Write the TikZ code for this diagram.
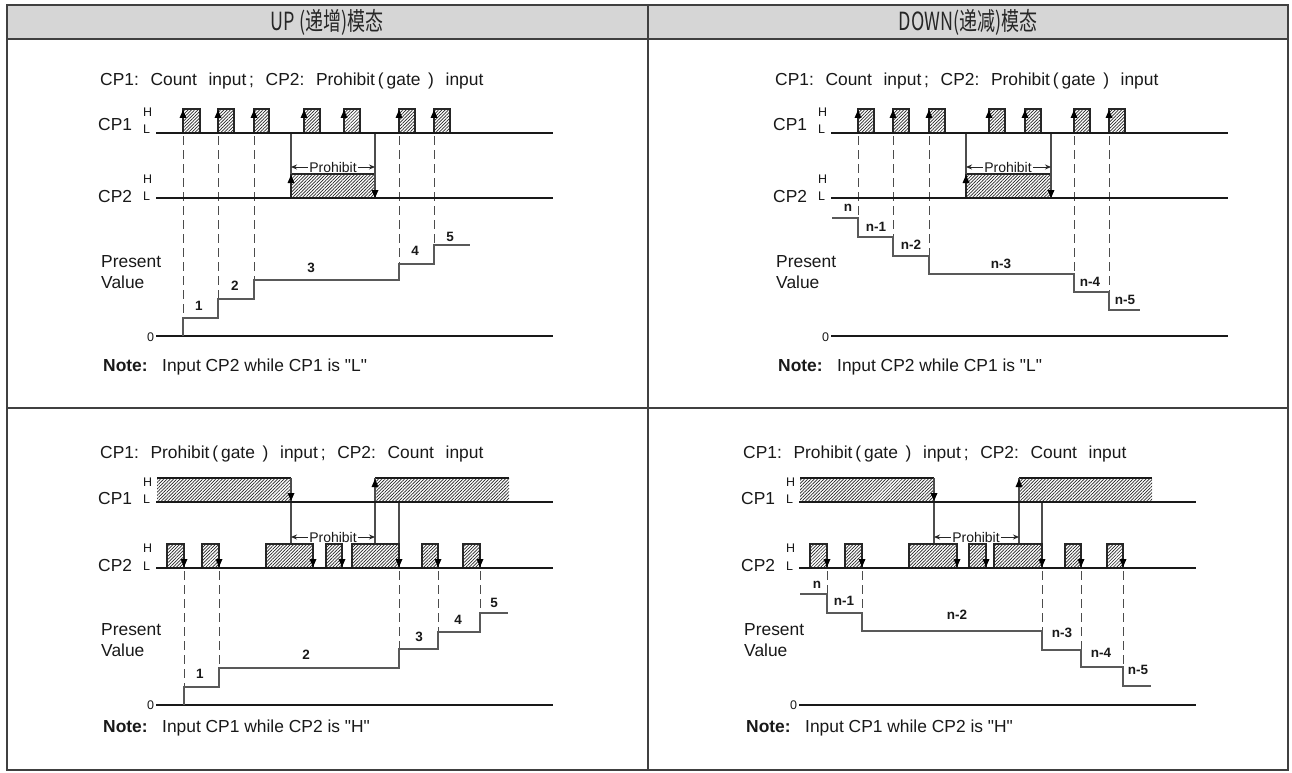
\documentclass[tikz,border=0pt]{standalone}
\usepackage{fontspec}
\usepackage{graphicx}
\setmainfont{Liberation Sans}
\newfontfamily\qfont[Ligatures=TeXOff]{Liberation Sans}
\newfontfamily\cjk{Noto Sans CJK SC}
\usetikzlibrary{patterns.meta,arrows.meta}
\tikzset{
  sig/.style={line width=1.8pt,black!90},
  stepl/.style={line width=1.1pt,black!65},
  dsh/.style={line width=1pt,black!70,dash pattern=on 9pt off 5pt},
  vln/.style={line width=1.1pt,black!70},
  pulse/.style={draw=black!85,line width=1.1pt,pattern={Lines[angle=45,distance=2.3pt,line width=0.7pt]},pattern color=black!85},
  hatch/.style={pattern={Lines[angle=45,distance=2.3pt,line width=0.7pt]},pattern color=black!85},
  lbl/.style={font=\fontsize{17.4}{18}\selectfont,anchor=base west,inner sep=0pt,text=black!90},
  hl/.style={font=\fontsize{12.5}{13}\selectfont,anchor=base west,inner sep=0pt,text=black!90},
  num/.style={font=\bfseries\fontsize{13.5}{14}\selectfont,inner sep=0pt,text=black!90},
  phb/.style={font=\fontsize{14}{14}\selectfont,inner sep=1.5pt,text=black!90},
  pharr/.style={line width=0.9pt,black!85,-{Stealth[length=6pt,width=5pt]}},
  hdr/.style={font=\cjk\fontsize{25}{25}\selectfont,text=black!85},
  frame/.style={line width=1.3pt,black!75}
}
\newcommand{\qq}{{\qfont\symbol{34}}}
\newcommand{\dsp}{\hspace{0.67em}}
\newcommand{\uppulse}[2]{\draw[pulse] (#1,133) -- (#1,109) -- (#2,109) -- (#2,133);
  \fill[black] (#1,110) -- ++(-3.5,8) -- ++(7,0) -- cycle;}
\newcommand{\dnpulse}[2]{\draw[pulse] (#1,568) -- (#1,544) -- (#2,544) -- (#2,568);
  \fill[black] (#2,567) -- ++(-3.5,-8) -- ++(7,0) -- cycle;}
\newcommand{\uptri}[2]{\fill[black] (#1,#2) -- ++(-3.5,8) -- ++(7,0) -- cycle;}
\newcommand{\dntri}[2]{\fill[black] (#1,#2) -- ++(-3.5,-8) -- ++(7,0) -- cycle;}
\begin{document}
\begin{tikzpicture}[x=1pt,y=-1pt]
\useasboundingbox (0,0) rectangle (1292,773);
\fill[white] (0,0) rectangle (1292,773);
% ---------- table ----------
\fill[black!16] (7,5) rectangle (1288,39);
\draw[frame] (7,5) rectangle (1288,770);
\draw[frame] (7,39) -- (1288,39);
\draw[frame] (648,5) -- (648,770);
\draw[frame] (7,408) -- (1288,408);
\node[hdr] (h1) at (327,22) {\scalebox{0.72}[1]{UP (递增)模态}};
\node[hdr] (h2) at (968,22) {\scalebox{0.72}[1]{DOWN(递减)模态}};

% =============== TOP LEFT ===============
\node[lbl] (tlt) at (100,86) {CP1:\dsp Count\dsp input\,;\dsp CP2:\dsp Prohibit\,(\,gate\ \,)\dsp input};
\node[lbl] (tla) at (98,131) {CP1};
\node[hl] (tlh1) at (143,117) {H}; \node[hl] (tll1) at (143,134) {L};
\node[lbl] (tlb) at (98,202) {CP2};
\node[hl] (tlh2) at (143,183) {H}; \node[hl] (tll2) at (143,200) {L};
\node[lbl] (tlp) at (101,267) {Present};
\node[lbl] (tlv) at (101,288) {Value};
\node[hl] (tl0) at (147,341) {0};
\node[lbl] (tln) at (103,371) {\textbf{Note:}\ \ \ Input CP2 while CP1 is \qq L\qq};
% dashed
\foreach \x/\y in {183/318,218/299,254/280,399/264,434/245}{\draw[dsh] (\x,136) -- (\x,\y);}
% prohibit bar
\draw[pulse] (291,198) -- (291,174) -- (375,174) -- (375,198);
\draw[vln] (291,133) -- (291,174);
\draw[vln] (375,133) -- (375,198);
\uptri{291}{175}
\dntri{375}{198}
\node[phb] (tlph) at (333,167) {Prohibit};
\draw[pharr] (tlph.west) -- (291,167);
\draw[pharr] (tlph.east) -- (375,167);
% pulses
\uppulse{183}{200}\uppulse{218}{234}\uppulse{254}{269}\uppulse{304}{320}\uppulse{344}{360}\uppulse{399}{415}\uppulse{434}{450}
\draw[sig] (156,133) -- (553,133);
\draw[sig] (156,198) -- (553,198);
\draw[sig] (156,336) -- (553,336);
% steps
\draw[stepl] (183,336) -- (183,318) -- (218,318) -- (218,299) -- (254,299) -- (254,280) -- (399,280) -- (399,264) -- (434,264) -- (434,245) -- (470,245);
\node[num] at (199,306) {1};
\node[num] at (235,286) {2};
\node[num] at (311,268) {3};
\node[num] at (415,251) {4};
\node[num] at (450,237) {5};

% =============== TOP RIGHT ===============
\node[lbl] (trt) at (775,86) {CP1:\dsp Count\dsp input\,;\dsp CP2:\dsp Prohibit\,(\,gate\ \,)\dsp input};
\node[lbl] (tra) at (773,131) {CP1};
\node[hl] (trh1) at (818,117) {H}; \node[hl] (trl1) at (818,134) {L};
\node[lbl] (trb) at (773,202) {CP2};
\node[hl] (trh2) at (818,183) {H}; \node[hl] (trl2) at (818,200) {L};
\node[lbl] (trp) at (776,267) {Present};
\node[lbl] (trv) at (776,288) {Value};
\node[hl] (tr0) at (822,341) {0};
\node[lbl] (trn) at (778,371) {\textbf{Note:}\ \ \ Input CP2 while CP1 is \qq L\qq};
\foreach \x/\y in {858/218,893/237,929/256,1074/274,1109/292}{\draw[dsh] (\x,136) -- (\x,\y);}
\draw[pulse] (966,198) -- (966,174) -- (1051,174) -- (1051,198);
\draw[vln] (966,133) -- (966,174);
\draw[vln] (1051,133) -- (1051,198);
\uptri{966}{175}
\dntri{1051}{198}
\node[phb] (trph) at (1008,167) {Prohibit};
\draw[pharr] (trph.west) -- (966,167);
\draw[pharr] (trph.east) -- (1051,167);
\uppulse{858}{874}\uppulse{893}{909}\uppulse{929}{945}\uppulse{989}{1005}\uppulse{1025}{1041}\uppulse{1074}{1090}\uppulse{1109}{1125}
\draw[sig] (831,133) -- (1228,133);
\draw[sig] (831,198) -- (1228,198);
\draw[sig] (831,336) -- (1228,336);
\draw[stepl] (832,218) -- (858,218) -- (858,237) -- (893,237) -- (893,256) -- (929,256) -- (929,274) -- (1074,274) -- (1074,292) -- (1109,292) -- (1109,310) -- (1140,310);
\node[num] at (848,208) {n};
\node[num] at (876,227) {n-1};
\node[num] at (911,245) {n-2};
\node[num] at (1001,264) {n-3};
\node[num] at (1090,282) {n-4};
\node[num] at (1125,300) {n-5};

% =============== BOTTOM LEFT ===============
\node[lbl] (blt) at (100,458) {CP1:\dsp Prohibit\,(\,gate\ \,)\dsp input\,;\dsp CP2:\dsp Count\dsp input};
\node[lbl] (bla) at (98,504) {CP1};
\node[hl] (blh1) at (143,486) {H}; \node[hl] (bll1) at (143,503) {L};
\node[lbl] (blb) at (98,571) {CP2};
\node[hl] (blh2) at (143,552) {H}; \node[hl] (bll2) at (143,570) {L};
\node[lbl] (blp) at (101,635) {Present};
\node[lbl] (blv) at (101,656) {Value};
\node[hl] (bl0) at (147,709) {0};
\node[lbl] (bln) at (103,732) {\textbf{Note:}\ \ \ Input CP1 while CP2 is \qq H\qq};
% CP1 gate bars
\fill[hatch] (157,478) rectangle (291,502);
\fill[hatch] (375,478) rectangle (509,502);
\draw[sig] (157,478) -- (291,478);
\draw[sig] (375,478) -- (509,478);
\draw[vln] (291,478) -- (291,544);
\draw[vln] (375,478) -- (375,544);
\draw[vln] (399,502) -- (399,568);
\dntri{291}{501}
\uptri{375}{479}
\node[phb] (blph) at (333,537) {Prohibit};
\draw[pharr] (blph.west) -- (291,537);
\draw[pharr] (blph.east) -- (375,537);
\foreach \x/\y in {184/687,219/668,399/649,438/632,480/613}{\draw[dsh] (\x,571) -- (\x,\y);}
\dnpulse{167}{184}\dnpulse{202}{219}\dnpulse{266}{313}\dnpulse{326}{342}\dnpulse{352}{399}\dnpulse{422}{438}\dnpulse{463}{480}
\draw[sig] (156,502) -- (553,502);
\draw[sig] (156,568) -- (553,568);
\draw[sig] (156,705) -- (553,705);
\draw[stepl] (184,705) -- (184,687) -- (219,687) -- (219,668) -- (399,668) -- (399,649) -- (438,649) -- (438,632) -- (480,632) -- (480,613) -- (508,613);
\node[num] at (200,674) {1};
\node[num] at (306,655) {2};
\node[num] at (419,637) {3};
\node[num] at (458,620) {4};
\node[num] at (494,603) {5};

% =============== BOTTOM RIGHT ===============
\node[lbl] (brt) at (743,458) {CP1:\dsp Prohibit\,(\,gate\ \,)\dsp input\,;\dsp CP2:\dsp Count\dsp input};
\node[lbl] (bra) at (741,504) {CP1};
\node[hl] (brh1) at (786,486) {H}; \node[hl] (brl1) at (786,503) {L};
\node[lbl] (brb) at (741,571) {CP2};
\node[hl] (brh2) at (786,552) {H}; \node[hl] (brl2) at (786,570) {L};
\node[lbl] (brp) at (744,635) {Present};
\node[lbl] (brv) at (744,656) {Value};
\node[hl] (br0) at (790,709) {0};
\node[lbl] (brn) at (746,732) {\textbf{Note:}\ \ \ Input CP1 while CP2 is \qq H\qq};
\fill[hatch] (800,478) rectangle (934,502);
\fill[hatch] (1019,478) rectangle (1152,502);
\draw[sig] (800,478) -- (934,478);
\draw[sig] (1019,478) -- (1152,478);
\draw[vln] (934,478) -- (934,544);
\draw[vln] (1019,478) -- (1019,544);
\draw[vln] (1042,502) -- (1042,568);
\dntri{934}{501}
\uptri{1019}{479}
\node[phb] (brph) at (976,537) {Prohibit};
\draw[pharr] (brph.west) -- (934,537);
\draw[pharr] (brph.east) -- (1019,537);
\foreach \x/\y in {827/594,862/613,1042/631,1081/650,1123/667}{\draw[dsh] (\x,571) -- (\x,\y);}
\dnpulse{810}{827}\dnpulse{845}{862}\dnpulse{909}{957}\dnpulse{969}{986}\dnpulse{994}{1042}\dnpulse{1065}{1081}\dnpulse{1107}{1123}
\draw[sig] (799,502) -- (1196,502);
\draw[sig] (799,568) -- (1196,568);
\draw[sig] (799,705) -- (1196,705);
\draw[stepl] (800,594) -- (827,594) -- (827,613) -- (862,613) -- (862,631) -- (1042,631) -- (1042,650) -- (1081,650) -- (1081,667) -- (1123,667) -- (1123,686) -- (1151,686);
\node[num] at (817,585) {n};
\node[num] at (844,601) {n-1};
\node[num] at (957,615) {n-2};
\node[num] at (1062,633) {n-3};
\node[num] at (1101,653) {n-4};
\node[num] at (1138,670) {n-5};
\end{tikzpicture}
\end{document}
